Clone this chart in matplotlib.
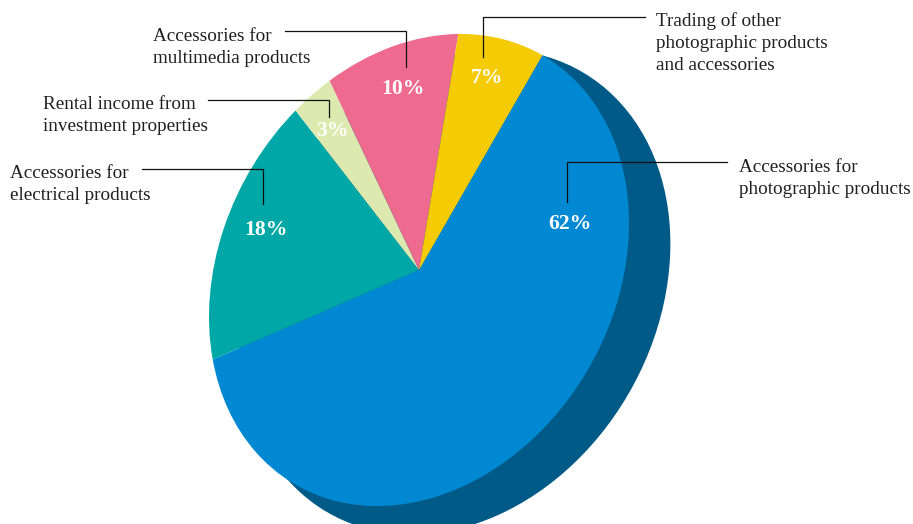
import matplotlib
matplotlib.use('Agg')
import matplotlib.pyplot as plt
from matplotlib.patches import Circle
from matplotlib.transforms import Affine2D

plt.rcParams['font.family'] = ['Liberation Serif', 'DejaVu Serif']

# Revenue share, clockwise from the blue slice
categories = ['Accessories for\nphotographic products',
              'Accessories for\nelectrical products',
              'Rental income from\ninvestment properties',
              'Accessories for\nmultimedia products',
              'Trading of other\nphotographic products\nand accessories']
shares = [62, 18, 3, 10, 7]
colors = ['#0089D2', '#00A7A7', '#DDE9AF', '#EE6A8F', '#F5CB05']
shadow_color = '#005A88'

# Where things sit on the page, in pixels: first label baseline, percent baseline, leader line
label_pos = [(739, 172), (10, 178), (43, 109), (153, 41), (656, 26.5)]
pct_pos = [(570, 229), (266, 235), (332, 136), (403, 94), (487, 83)]
leaders = [([727, 567, 567], [162, 162, 202]),
           ([142, 263, 263], [169, 169, 204]),
           ([208, 329, 329], [100, 100, 117]),
           ([285, 406, 406], [31, 31, 67]),
           ([645, 483, 483], [17, 17, 57])]

fig = plt.figure(figsize=(9.13, 5.24), dpi=100)
ax = fig.add_axes([0, 0, 1, 1])

wedges, _ = ax.pie(shares, colors=colors, startangle=54, counterclock=False,
                   wedgeprops={'linewidth': 0})

# The pie is drawn as a tilted ellipse, so push the unit circle through a skew
tilt = Affine2D.from_values(210, -47, 0, -231.3, 419, 270)
for w in wedges:
    w.set_transform(tilt + ax.transData)
    w.set_snap(False)

# Shadow is a slightly bigger ellipse sitting behind, down and to the right
ax.add_patch(Circle((0.17, -0.13), 1.027, color=shadow_color, linewidth=0, zorder=0.5,
                    transform=tilt + ax.transData))

ax.set_aspect('auto')
ax.set_xlim(0, 913)
ax.set_ylim(524, 0)
ax.axis('off')

for (x, y), name in zip(label_pos, categories):
    for n, line in enumerate(name.split('\n')):
        ax.text(x, y + 21.6 * n, line, fontsize=13.8, color='#231F20', ha='left',
                va='baseline', zorder=4)

for (x, y), share in zip(pct_pos, shares):
    ax.text(x, y, f'{share}%', fontsize=15.6, fontweight='bold', color='white',
            ha='center', va='baseline', zorder=4)

for xs, ys in leaders:
    ax.plot(xs, ys, color='#111111', linewidth=0.9, zorder=3, solid_joinstyle='miter')

fig.savefig('out.png', dpi=100)
